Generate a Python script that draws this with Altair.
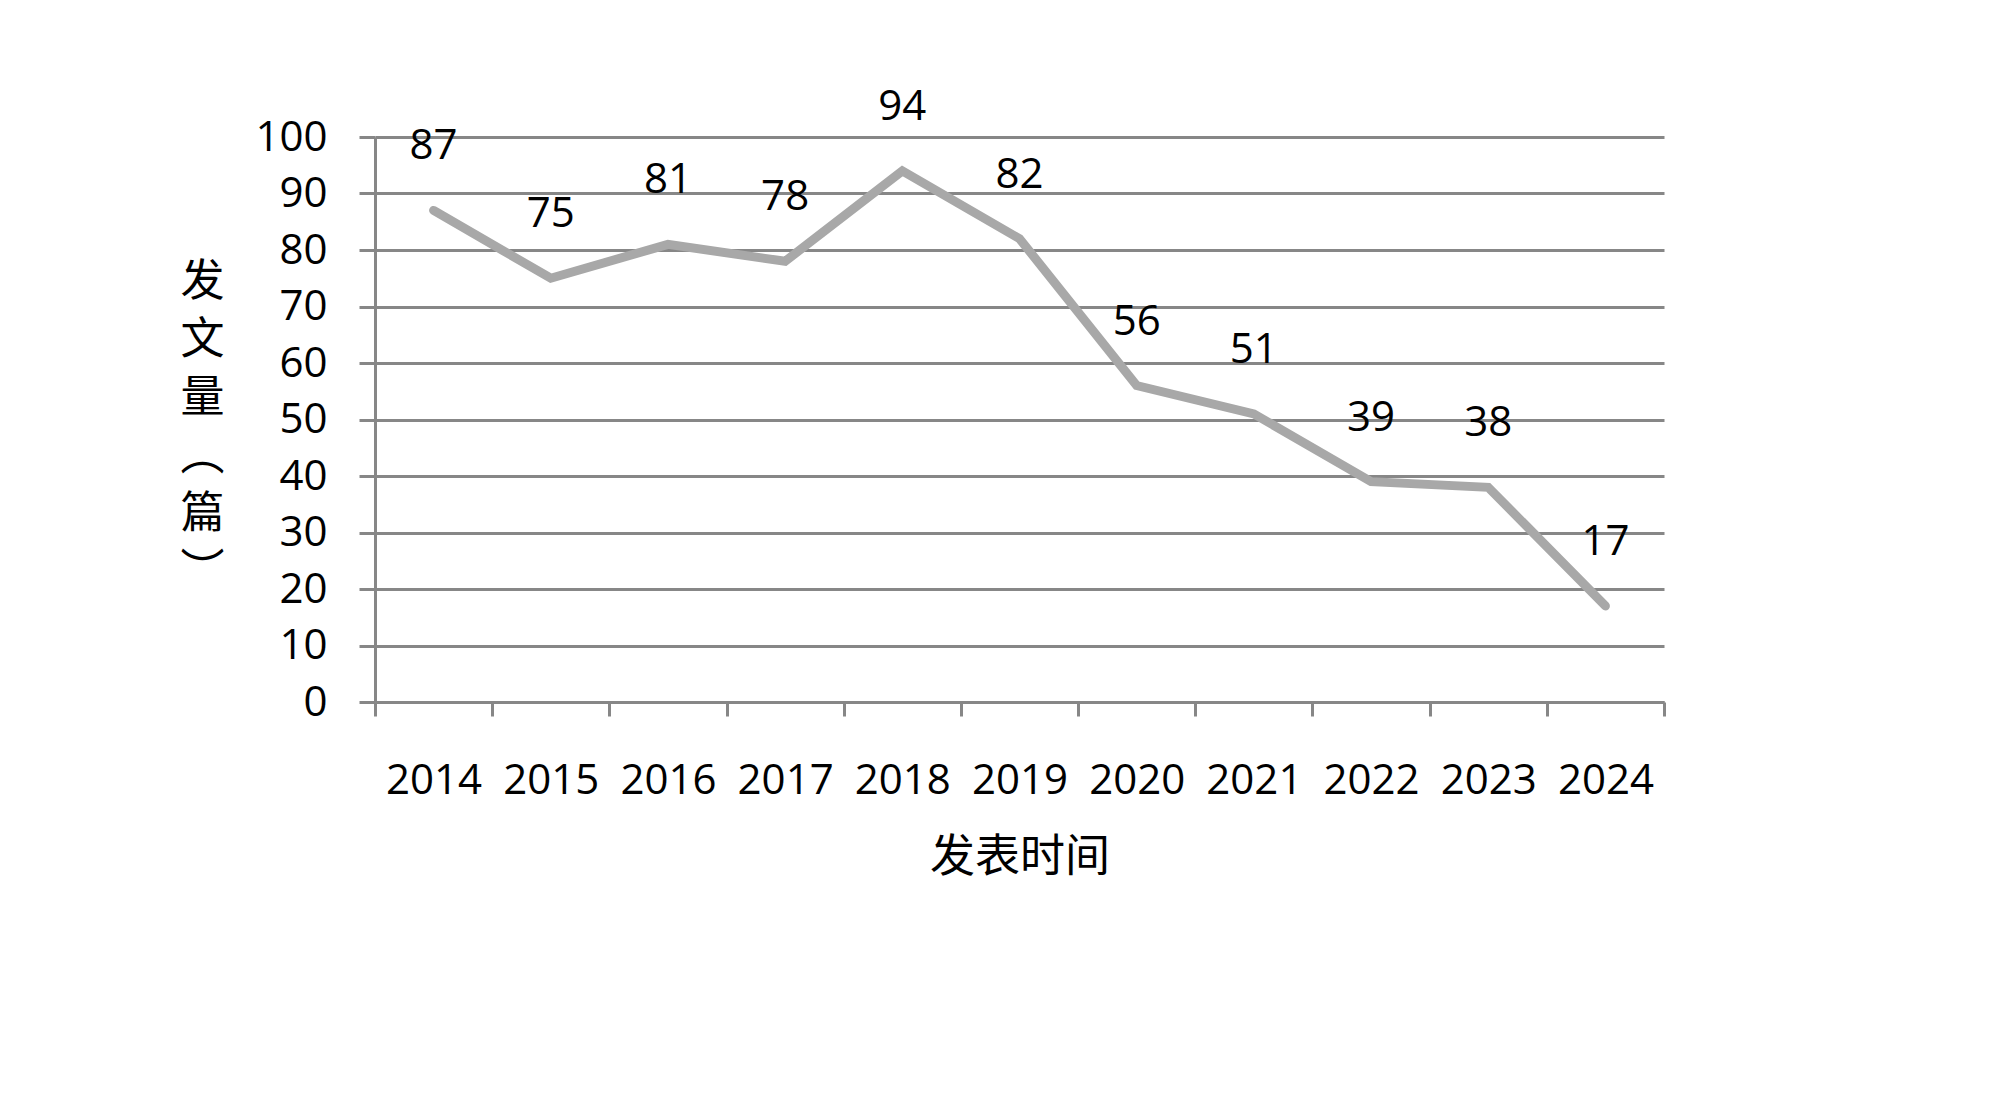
import altair as alt
import pandas as pd

years = ["2014", "2015", "2016", "2017", "2018", "2019", "2020", "2021", "2022", "2023", "2024"]
counts = [87, 75, 81, 78, 94, 82, 56, 51, 39, 38, 17]
y_ticks = [0, 10, 20, 30, 40, 50, 60, 70, 80, 90, 100]

df = pd.DataFrame({"year": years, "count": counts})

GRID = "#878787"
LINE = "#A8A8A8"
NUM_FONT = "Open Sans"
CJK_FONT = "Noto Sans CJK SC"

x_enc = alt.X(
    "year:O",
    sort=years,
    bandPosition=0.5,
    scale=alt.Scale(type="band", paddingInner=0, paddingOuter=0),
    axis=alt.Axis(
        title="发表时间",
        titleFont=CJK_FONT,
        titleFontSize=45,
        titleFontWeight="normal",
        titleColor="#000000",
        titleBaseline="middle",
        titleY=155,
        labelAngle=0,
        labelFont=NUM_FONT,
        labelFontSize=42,
        labelColor="#000000",
        labelPadding=44,
        tickBand="extent",
        ticks=True,
        tickSize=14,
        tickWidth=3,
        tickColor=GRID,
        domain=True,
        domainColor=GRID,
        domainWidth=3,
        grid=False,
    ),
)

y_enc = alt.Y(
    "count:Q",
    scale=alt.Scale(domain=[0, 100], nice=False),
    axis=alt.Axis(
        values=y_ticks,
        title=["发", "文", "量", "︵", "篇", "︶"],
        titleFont=CJK_FONT,
        titleFontSize=44,
        titleFontWeight="normal",
        titleColor="#000000",
        titleAngle=0,
        titleAlign="center",
        titleBaseline="top",
        titleLineHeight=58,
        titleX=-173,
        titleY=123,
        labelFont=NUM_FONT,
        labelFontSize=42,
        labelColor="#000000",
        labelPadding=32,
        ticks=True,
        tickSize=16,
        tickWidth=3,
        tickColor=GRID,
        domain=True,
        domainColor=GRID,
        domainWidth=3,
        grid=True,
        gridColor=GRID,
        gridWidth=3,
    ),
)

line = alt.Chart(df).mark_line(
    color=LINE, strokeWidth=9, strokeCap="round", strokeJoin="miter"
).encode(x=x_enc, y=y_enc)

labels = alt.Chart(df).mark_text(
    font=NUM_FONT, fontSize=42, color="#000000", dy=-64, baseline="middle", align="center"
).encode(
    x=alt.X("year:O", sort=years, bandPosition=0.5),
    y=alt.Y("count:Q"),
    text=alt.Text("count:Q"),
)

chart = (
    alt.layer(line, labels)
    .properties(
        width=1289,
        height=565,
        autosize=alt.AutoSizeParams(type="none"),
        padding={"left": 367, "top": 129, "right": 40, "bottom": 220},
        background="#ffffff",
    )
    .configure_view(stroke=None)
)

chart.save("out.html", embed_options={"renderer": "svg", "actions": False})
